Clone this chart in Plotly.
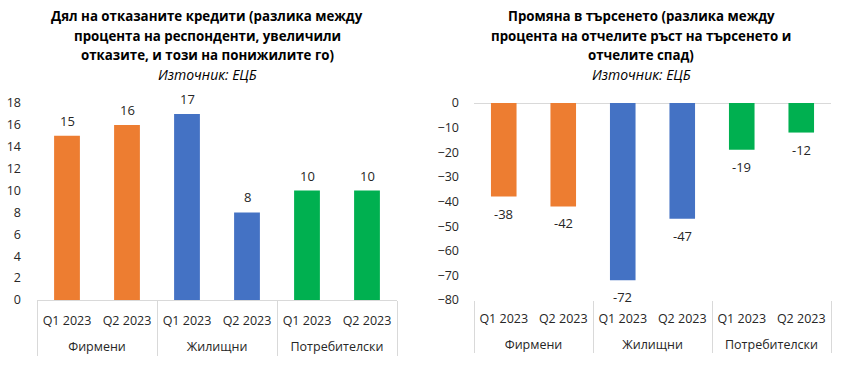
import plotly.graph_objects as go

groups = ["Фирмени", "Фирмени", "Жилищни", "Жилищни", "Потребителски", "Потребителски"]
quarters = ["Q1 2023", "Q2 2023", "Q1 2023", "Q2 2023", "Q1 2023", "Q2 2023"]
rejected = [15, 16, 17, 8, 10, 10]
demand = [-38, -42, -72, -47, -19, -12]
colors = ["#ED7D31", "#ED7D31", "#4472C4", "#4472C4", "#00B050", "#00B050"]

title1_lines = ["Дял на отказаните кредити (разлика между",
                "процента на респонденти, увеличили",
                "отказите, и този на понижилите го)"]
title2_lines = ["Промяна в търсенето (разлика между",
                "процента на отчелите ръст на търсенето и",
                "отчелите спад)"]
source = "Източник: ЕЦБ"

FONT = "Open Sans, Noto Sans, DejaVu Sans, sans-serif"
TXT = "#262626"

# leading line break gives the group row extra space below the quarter row
group_labels = ["<br>" + g for g in groups]

fig = go.Figure()
fig.add_trace(go.Bar(x=[group_labels, quarters], y=rejected, marker_color=colors,
                     width=0.43, xaxis="x", yaxis="y", showlegend=False))
fig.add_trace(go.Bar(x=[group_labels, quarters], y=demand, marker_color=colors,
                     width=0.43, xaxis="x2", yaxis="y2", showlegend=False))

ann = []
for i, v in enumerate(rejected):
    ann.append(dict(x=i, y=v, xref="x", yref="y", text=str(v), showarrow=False,
                    yshift=15, font=dict(size=13, color=TXT, family=FONT)))
for i, v in enumerate(demand):
    ann.append(dict(x=i, y=v, xref="x2", yref="y2", text=str(v), showarrow=False,
                    yshift=-17, font=dict(size=13, color=TXT, family=FONT)))

line_y = [16, 36, 55]
for k, t in enumerate(title1_lines):
    ann.append(dict(x=207 / 848, y=1 - line_y[k] / 377, xref="paper", yref="paper",
                    text="<b>" + t + "</b>", showarrow=False, xanchor="center", yanchor="middle",
                    font=dict(size=13.3, color="#000000", family=FONT)))
ann.append(dict(x=207 / 848, y=1 - 74 / 377, xref="paper", yref="paper",
                text="<i>" + source + "</i>", showarrow=False, xanchor="center", yanchor="middle",
                font=dict(size=14, color="#000000", family=FONT)))
for k, t in enumerate(title2_lines):
    ann.append(dict(x=641 / 848, y=1 - line_y[k] / 377, xref="paper", yref="paper",
                    text="<b>" + t + "</b>", showarrow=False, xanchor="center", yanchor="middle",
                    font=dict(size=13.3, color="#000000", family=FONT)))
ann.append(dict(x=641 / 848, y=1 - 74 / 377, xref="paper", yref="paper",
                text="<i>" + source + "</i>", showarrow=False, xanchor="center", yanchor="middle",
                font=dict(size=14, color="#000000", family=FONT)))

xcommon = dict(type="multicategory", showgrid=False, ticks="", automargin=False,
               showdividers=True, dividercolor="#D9D9D9", dividerwidth=1,
               ticklabelstandoff=9,
               tickfont=dict(size=12.5, color=TXT, family=FONT), zeroline=False)
fig.update_layout(
    template="none",
    width=848, height=377, margin=dict(l=0, r=0, t=0, b=0, pad=0),
    plot_bgcolor="white", paper_bgcolor="white", bargap=0.57,
    xaxis=dict(domain=[37 / 848, 397 / 848], anchor="y", showline=True,
               linecolor="#D9D9D9", linewidth=1, **xcommon),
    yaxis=dict(domain=[77 / 377, 274 / 377], anchor="x", range=[0, 18], dtick=2,
               showgrid=False, zeroline=False, showline=False, ticks="", automargin=False,
               ticklabelstandoff=15,
               tickfont=dict(size=12.5, color=TXT, family=FONT)),
    xaxis2=dict(domain=[474 / 848, 831 / 848], anchor="y2", showline=False, **xcommon),
    yaxis2=dict(domain=[77 / 377, 274 / 377], anchor="x2", range=[-80, 0], dtick=10,
                showgrid=False, zeroline=True, zerolinecolor="#D9D9D9", zerolinewidth=1,
                showline=False, ticks="", ticklabelstandoff=14, automargin=False,
                tickfont=dict(size=12.5, color=TXT, family=FONT)),
    annotations=ann,
)
fig.write_html("out.html", config={"displayModeBar": False},
               post_script="document.body.style.margin='0';")
